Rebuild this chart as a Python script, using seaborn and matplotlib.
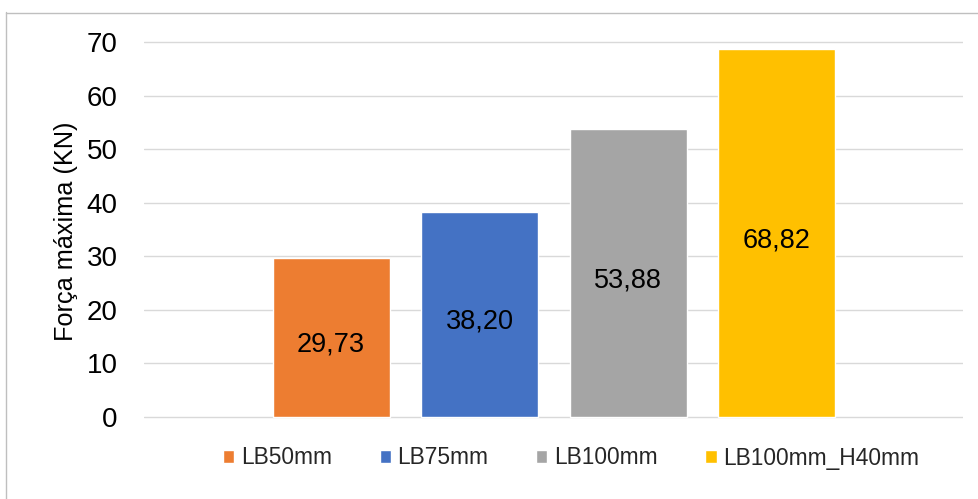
import matplotlib
matplotlib.use("Agg")
import matplotlib.pyplot as plt
from matplotlib.lines import Line2D
import pandas as pd
import seaborn as sns

# Data
ensaios = ["LB50mm", "LB75mm", "LB100mm", "LB100mm_H40mm"]
forca_max = [29.73, 38.20, 53.88, 68.82]
cores = ["#ED7D31", "#4472C4", "#A5A5A5", "#FFC000"]
y_ticks = [0, 10, 20, 30, 40, 50, 60, 70]

df = pd.DataFrame({"ensaio": ensaios, "forca": forca_max})

sns.set_theme(style="white")
plt.rcParams["font.family"] = ["Liberation Sans", "DejaVu Sans"]

W, H = 979, 499
fig = plt.figure(figsize=(W / 100, H / 100), dpi=100)
fig.patch.set_facecolor("white")

# Axes placement (pixel based)
ax_left, ax_right = 144, 963
ax_top, ax_bottom = 39.6, 419.4
ax = fig.add_axes([ax_left / W, 1 - ax_bottom / H,
                   (ax_right - ax_left) / W, (ax_bottom - ax_top) / H])

sns.barplot(data=df, x="ensaio", y="forca", hue="ensaio", order=ensaios,
            hue_order=ensaios, palette=cores, width=0.788, saturation=1,
            legend=True, ax=ax, zorder=3)

ax.set_xlim(-1.259, 4.2525)
ax.set_ylim(-0.5, 70.5)
ax.set_yticks(y_ticks)
ax.set_yticklabels([str(t) for t in y_ticks], fontsize=20, color="#000000")
ax.tick_params(axis="y", length=0, pad=19)
ax.set_xticks([])
ax.set_xlabel("")

ax.yaxis.grid(True, color="#D9D9D9", linewidth=1.0, zorder=0)
ax.set_axisbelow(True)
for s in ax.spines.values():
    s.set_visible(False)

ax.set_ylabel("Força máxima (KN)", fontsize=18.2, color="#000000")
ax.yaxis.set_label_coords(-0.0806, 0.496)

# Value labels centred in each bar, decimal comma
for patch, v in zip(ax.patches, forca_max):
    cx = patch.get_x() + patch.get_width() / 2
    ax.annotate(f"{v:.2f}".replace(".", ","), (cx, v / 2),
                xytext=(0, -10.4), textcoords="offset points",
                ha="center", va="baseline", fontsize=19.5, color="#000000",
                zorder=5)

# Legend below the plot
handles, labels = ax.get_legend_handles_labels()
if ax.get_legend() is not None:
    ax.get_legend().remove()
fig.legend(handles, labels, loc="center", ncol=4, frameon=False,
           bbox_to_anchor=(571 / W, 1 - 458 / H), fontsize=16.4,
           handlelength=0.5, handleheight=0.45, handletextpad=0.28,
           columnspacing=2.1, borderpad=0, borderaxespad=0)

# Chart frame
fig.add_artist(Line2D([6.5 / W, 6.5 / W], [0, 1 - 12 / H],
                      transform=fig.transFigure, color="#BFBFBF", linewidth=1.0))
fig.add_artist(Line2D([6 / W, 1], [1 - 12.5 / H, 1 - 12.5 / H],
                      transform=fig.transFigure, color="#BFBFBF", linewidth=1.0))

fig.savefig("out.png", dpi=100)
